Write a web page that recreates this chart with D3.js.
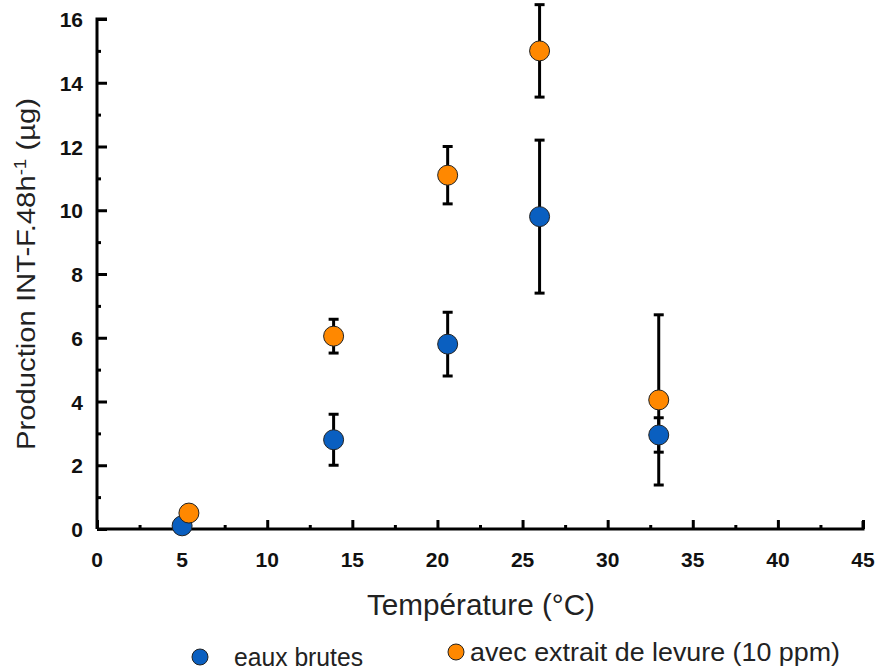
<!DOCTYPE html>
<html><head><meta charset="utf-8">
<script src="https://cdn.jsdelivr.net/npm/d3@7"></script>
<style>body{margin:0;background:#fff}</style>
</head><body>
<svg id="chart" width="881" height="671"></svg>
<script>
const seriesNames = ["eaux brutes", "avec extrait de levure (10 ppm)"];
const seriesColors = ["#0a5fc0", "#ff8800"];
const bruteX = [5.0, 13.9, 20.6, 26.0, 33.0];
const bruteY = [0.1, 2.8, 5.8, 9.8, 2.95];
const bruteErr = [0, 0.8, 1.0, 2.4, 0.54];
const levureX = [5.4, 13.9, 20.6, 26.0, 33.0];
const levureY = [0.5, 6.05, 11.1, 15.0, 4.05];
const levureErr = [0, 0.53, 0.9, 1.45, 2.67];
const xTicks = [0, 5, 10, 15, 20, 25, 30, 35, 40, 45];
const yTicks = [0, 2, 4, 6, 8, 10, 12, 14, 16];

const svg = d3.select("#chart");
const x = d3.scaleLinear().domain([0, 45]).range([97, 863]);
const y = d3.scaleLinear().domain([0, 16]).range([529, 19]);
const font = "'Liberation Sans', Arial, sans-serif";

// Axes
const yAxis = svg.append("g").attr("transform", `translate(${x(0)},0)`)
  .call(d3.axisRight(y).tickValues(d3.range(0, 17, 1)).tickSize(10).tickFormat(""));
yAxis.selectAll(".tick line").attr("x2", d => d % 2 === 0 ? 10 : 4).attr("stroke-width", 3);
yAxis.select(".domain").attr("d", `M10,${y(16)}H0V${y(0)}`).attr("stroke-width", 3).attr("fill", "none");

const xAxis = svg.append("g").attr("transform", `translate(0,${y(0)})`)
  .call(d3.axisTop(x).tickValues(d3.range(0, 45.1, 2.5)).tickSize(8).tickFormat(""));
xAxis.selectAll(".tick line").attr("y2", d => d % 5 === 0 ? -9 : -4).attr("stroke-width", 3);
xAxis.select(".domain").attr("d", `M${x(0)},0H${x(45)}V-8`).attr("stroke-width", 3).attr("fill", "none");

// Tick labels
svg.append("g").selectAll("text").data(yTicks).join("text")
  .attr("x", 83).attr("y", d => y(d) + 8).attr("text-anchor", "end")
  .attr("font-family", font).attr("font-weight", "bold").attr("font-size", 21)
  .attr("fill", "#111").text(d => d);
svg.append("g").selectAll("text").data(xTicks).join("text")
  .attr("x", d => x(d)).attr("y", 567).attr("text-anchor", "middle")
  .attr("font-family", font).attr("font-weight", "bold").attr("font-size", 21)
  .attr("fill", "#111").text(d => d);

// Axis titles
svg.append("text").attr("x", 481).attr("y", 615).attr("text-anchor", "middle")
  .attr("font-family", font).attr("font-size", 29).attr("fill", "#222")
  .attr("textLength", 228).attr("lengthAdjust", "spacingAndGlyphs").text("Température (°C)");
const yt = svg.append("text").attr("transform", "translate(35,274) rotate(-90)")
  .attr("text-anchor", "middle").attr("font-family", font).attr("font-size", 25).attr("fill", "#222")
  .attr("textLength", 352).attr("lengthAdjust", "spacingAndGlyphs");
yt.append("tspan").text("Production INT-F.48h");
yt.append("tspan").attr("dy", -9).attr("font-size", 16).text("-1");
yt.append("tspan").attr("dy", 9).text("  (µg)");

// Data
const series = [
  {xs: bruteX, ys: bruteY, es: bruteErr, color: seriesColors[0]},
  {xs: levureX, ys: levureY, es: levureErr, color: seriesColors[1]}
];
series.forEach(s => {
  const pts = s.xs.map((v, i) => ({x: v, y: s.ys[i], e: s.es[i]}));
  const g = svg.append("g");
  const eb = pts.filter(p => p.e > 0);
  g.selectAll("line.v").data(eb).join("line")
    .attr("x1", p => x(p.x)).attr("x2", p => x(p.x))
    .attr("y1", p => y(p.y + p.e)).attr("y2", p => y(p.y - p.e))
    .attr("stroke", "#000").attr("stroke-width", 3);
  [1, -1].forEach(sg => {
    g.selectAll(null).data(eb).join("line")
      .attr("x1", p => x(p.x) - 5).attr("x2", p => x(p.x) + 5)
      .attr("y1", p => y(p.y + sg * p.e)).attr("y2", p => y(p.y + sg * p.e))
      .attr("stroke", "#000").attr("stroke-width", 3);
  });
});
series.forEach(s => {
  const pts = s.xs.map((v, i) => ({x: v, y: s.ys[i]}));
  svg.append("g").selectAll("circle").data(pts).join("circle")
    .attr("cx", p => x(p.x)).attr("cy", p => y(p.y)).attr("r", 10)
    .attr("fill", s.color).attr("stroke", "#222").attr("stroke-width", 1);
});

// Legend
const leg = [{cx: 200, cy: 657, tx: 234, ty: 666, len: 129}, {cx: 456, cy: 652, tx: 470, ty: 661, len: 370}];
leg.forEach((l, i) => {
  svg.append("circle").attr("cx", l.cx).attr("cy", l.cy).attr("r", 8)
    .attr("fill", seriesColors[i]).attr("stroke", "#222").attr("stroke-width", 1);
  svg.append("text").attr("x", l.tx).attr("y", l.ty).attr("font-family", font)
    .attr("font-size", 25).attr("fill", "#222")
    .attr("textLength", l.len).attr("lengthAdjust", "spacingAndGlyphs").text(seriesNames[i]);
});
</script>
</body></html>
